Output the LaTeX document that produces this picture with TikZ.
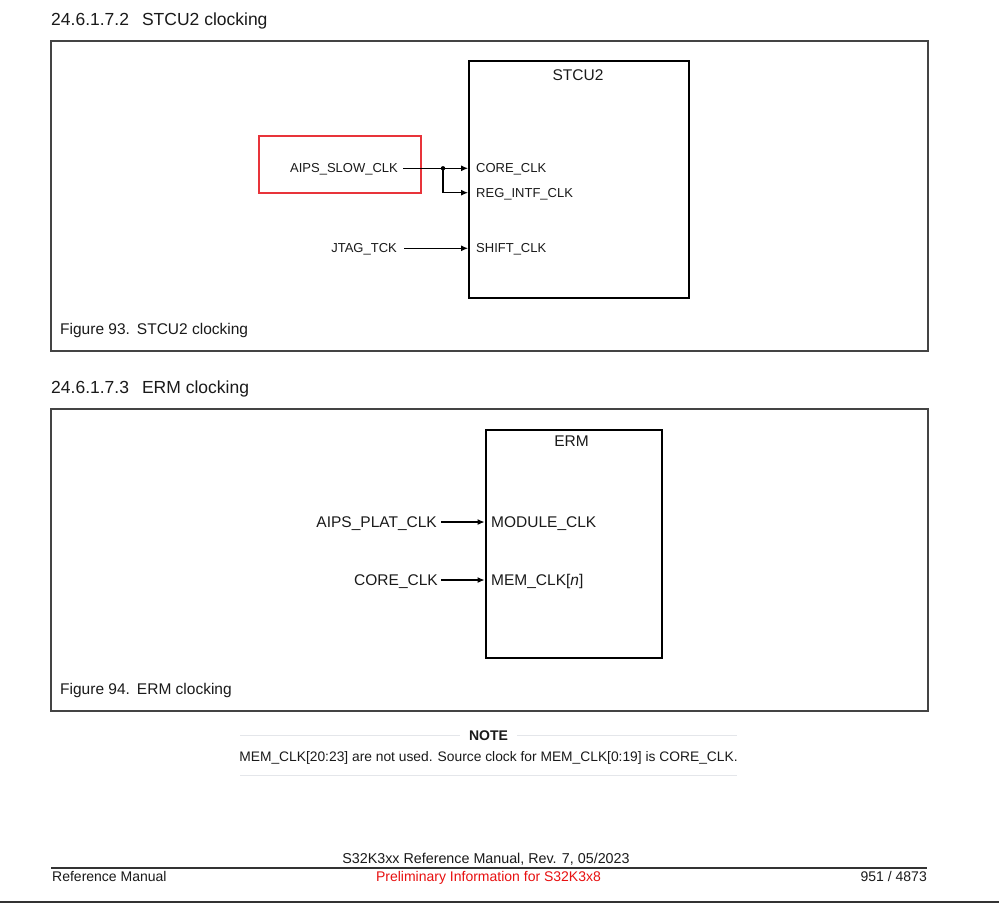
\documentclass[tikz,border=0pt]{standalone}
\usepackage{fontspec}
\setmainfont{Liberation Sans}
\usetikzlibrary{arrows.meta}
\definecolor{txt}{HTML}{1A1A1A}
\definecolor{frame}{HTML}{444444}
\definecolor{redbox}{HTML}{E8343A}
\definecolor{redtxt}{HTML}{E81010}
\definecolor{rule}{HTML}{E4E6EA}
\tikzset{
  x=1pt, y=-1pt,
  heading/.style={anchor=base west, inner sep=0pt, text=txt, font=\fontsize{17.5}{20}\selectfont},
  caption/.style={anchor=base west, inner sep=0pt, text=txt, font=\fontsize{15.5}{18}\selectfont},
  frm/.style={draw=frame, line width=1.6pt},
  blk/.style={draw=black, line width=2pt},
  pinS/.style={inner sep=0pt, text height=9.3pt, text depth=0pt, text=txt, font=\fontsize{13}{15}\selectfont},
  pinE/.style={inner sep=0pt, text height=11.1pt, text depth=0pt, text=txt, font=\fontsize{15.5}{18}\selectfont},
  title/.style={anchor=base, inner sep=0pt, text=txt, font=\fontsize{15.5}{18}\selectfont},
  arr/.style={draw=black, line width=1.1pt, -{Latex[length=7pt,width=6pt]}},
  notetxt/.style={anchor=base, inner sep=0pt, text=txt, font=\fontsize{13.8}{16}\selectfont},
  foot/.style={anchor=base, inner sep=0pt, text=txt, font=\fontsize{14}{16}\selectfont},
}
\begin{document}
\begin{tikzpicture}
\useasboundingbox (0,0) rectangle (999,903);
\fill[white] (0,0) rectangle (999,903);

% ---------- STCU2 section ----------
\node[heading] (h1) at (51,25) {24.6.1.7.2\hspace{13pt}STCU2 clocking};
\node[frm, minimum width=877, minimum height=310, anchor=north west, inner sep=0pt] (f1) at (50,40) {};
\node[blk, minimum width=220, minimum height=237, anchor=north west, inner sep=0pt] (stcu) at (468,60) {};
\node[title] (stcut) at (578,80.5) {STCU2};
\node[draw=redbox, line width=2pt, minimum width=162, minimum height=57, anchor=north west, inner sep=0pt] (red) at (257.5,134.5) {};

\node[pinS, anchor=east] (aips) at (398,168.3) {AIPS\_SLOW\_CLK};
\node[pinS, anchor=east] (jtag) at (397,248.3) {JTAG\_TCK};
\node[pinS, anchor=west] (core) at (476,168.3) {CORE\_CLK};
\node[pinS, anchor=west] (reg) at (476,192.7) {REG\_INTF\_CLK};
\node[pinS, anchor=west] (shift) at (476,248.3) {SHIFT\_CLK};

\coordinate (j) at (443,168.3);
\draw[arr] ([xshift=5pt]aips.east) -- (aips.east -| stcu.west);
\draw[arr] (j) |- (reg.west -| stcu.west);
\fill (j) circle (2.2);
\draw[arr] ([xshift=7pt]jtag.east) -- (jtag.east -| stcu.west);

\node[caption] (c1) at (60,334) {Figure 93.\hspace{7pt}STCU2 clocking};

% ---------- ERM section ----------
\node[heading] (h2) at (51,393.5) {24.6.1.7.3\hspace{13pt}ERM clocking};
\node[frm, minimum width=877, minimum height=302, anchor=north west, inner sep=0pt] (f2) at (50,408) {};
\node[blk, minimum width=176, minimum height=228, anchor=north west, inner sep=0pt] (erm) at (484.5,428.5) {};
\node[title] (ermt) at (571.5,446.5) {ERM};

\node[pinE, anchor=east] (plat) at (437,522) {AIPS\_PLAT\_CLK};
\node[pinE, anchor=east] (coreE) at (438,580) {CORE\_CLK};
\node[pinE, anchor=west] (mod) at (491,522) {MODULE\_CLK};
\node[pinE, anchor=west] (mem) at (491,580) {MEM\_CLK[\textit{n}]};
\draw[arr] ([xshift=4pt]plat.east) -- (plat.east -| erm.west);
\draw[arr] ([xshift=3pt]coreE.east) -- (coreE.east -| erm.west);

\node[caption] (c2) at (60,694) {Figure 94.\hspace{7pt}ERM clocking};

% ---------- NOTE ----------
\node[notetxt, font=\fontsize{14}{16}\selectfont\bfseries] (note) at (488.5,740) {NOTE};
\coordinate (nl) at (240,735.5);
\coordinate (nr) at (737,735.5);
\draw[rule, line width=1.8pt] (nl) -- ([xshift=-9pt]note.west |- nl);
\draw[rule, line width=1.8pt] ([xshift=9pt]note.east |- nr) -- (nr);
\node[notetxt] (notet) at (488.5,761) {MEM\_CLK[20:23] are not used. Source clock for MEM\_CLK[0:19] is CORE\_CLK.};
\coordinate (bl) at (240,775.5);
\coordinate (br) at (737,775.5);
\draw[rule, line width=1.8pt] (bl) -- (br);

% ---------- footer ----------
\node[foot, font=\fontsize{14.3}{16}\selectfont] (ft) at (486,863.3) {S32K3xx Reference Manual, Rev. 7, 05/2023};
\coordinate (fl) at (51,868.2);
\coordinate (fr) at (927,868.2);
\draw[black!80, line width=1.5pt] (fl) -- (fr);
\node[foot, anchor=base west] (fl1) at (52,881.7) {Reference Manual};
\node[foot, text=redtxt] (fl2) at (488.5,881.7) {Preliminary Information for S32K3x8};
\node[foot, anchor=base east] (fl3) at (927,881.7) {951 / 4873};
\fill[black!80] (0,900.5) rectangle (999,903);
\end{tikzpicture}
\end{document}
